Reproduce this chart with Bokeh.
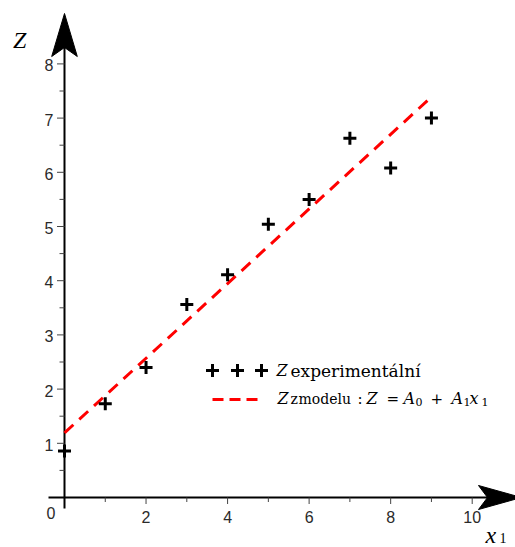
import numpy as np
from bokeh.plotting import figure
from bokeh.models import Range1d, Label
from bokeh.core.properties import value
from bokeh.embed import file_html
from bokeh.resources import INLINE

# ---------------- data ----------------
x1_values = [0, 1, 2, 3, 4, 5, 6, 7, 8, 9]
z_experimental = [0.86, 1.73, 2.40, 3.56, 4.11, 5.04, 5.50, 6.63, 6.08, 7.00]

x_major_ticks = [2, 4, 6, 8, 10]
x_minor_ticks = [1, 3, 5, 7, 9]
y_major_ticks = [1, 2, 3, 4, 5, 6, 7, 8]
y_minor_ticks = [0.5, 1.5, 2.5, 3.5, 4.5, 5.5, 6.5, 7.5]
x_tick_labels = ["2", "4", "6", "8", "10"]
y_tick_labels = ["1", "2", "3", "4", "5", "6", "7", "8"]
origin_label = "0"

y_axis_title = "Z"
x_axis_title = "x"
x_axis_title_sub = "1"

# model Z = A0 + A1*x1 (least squares fit of the experimental data)
A1, A0 = np.polyfit(x1_values, z_experimental, 1)
model_x = [min(x1_values), max(x1_values)]
model_z = [A0 + A1 * x for x in model_x]

# ---------------- layout ----------------
W, H = 515, 547
OX, OY = 64.0, 497.0       # origin in frame pixels (from left, from top)
UX, UY = 40.77, 54.2       # pixels per data unit
LBL_SHIFT = 7              # label baseline correction (px)


def dx(px):
    return (px - OX) / UX


def dy(py):
    return (OY - py) / UY


p = figure(width=W, height=H,
           x_range=Range1d(-OX / UX, (W - OX) / UX),
           y_range=Range1d(-(H - OY) / UY, OY / UY),
           x_axis_type=None, y_axis_type=None,
           min_border=0, toolbar_location=None, output_backend="svg",
           outline_line_color=None)
p.background_fill_color = "white"
p.border_fill_color = "white"

TICK_COL = "#444444"
SANS = value("Liberation Sans")

# axis lines
p.segment(x0=[dx(48), 0], y0=[0, dy(508)], x1=[dx(489), 0], y1=[0, dy(45)],
          line_color="black", line_width=2)

# arrow heads
hw = 12.8 / UX
hh = 12.0 / UY
p.patches(xs=[[0, hw, 0, -hw], [dx(521), dx(478), dx(487), dx(478)]],
          ys=[[dy(13), dy(56), dy(47), dy(56)], [0, hh, 0, -hh]],
          fill_color="black", line_color="black", line_width=1)

# ticks
p.segment(x0=x_major_ticks, y0=[0] * len(x_major_ticks), x1=x_major_ticks,
          y1=[-6.5 / UY] * len(x_major_ticks), line_color=TICK_COL, line_width=1)
p.segment(x0=x_minor_ticks, y0=[0] * len(x_minor_ticks), x1=x_minor_ticks,
          y1=[-4.5 / UY] * len(x_minor_ticks), line_color=TICK_COL, line_width=1)
p.segment(x0=[-7.5 / UX] * len(y_major_ticks), y0=y_major_ticks,
          x1=[0] * len(y_major_ticks), y1=y_major_ticks, line_color=TICK_COL, line_width=1)
p.segment(x0=[-5 / UX] * len(y_minor_ticks), y0=y_minor_ticks,
          x1=[0] * len(y_minor_ticks), y1=y_minor_ticks, line_color=TICK_COL, line_width=1)

# tick labels
TL_SIZE = "16px"
TL_COL = "#2a2a2a"
p.text(x=x_major_ticks, y=[dy(516)] * len(x_major_ticks), text=x_tick_labels,
       text_font=SANS, text_font_size=TL_SIZE, text_color=TL_COL,
       text_align="center", text_baseline="middle")
p.text(x=[dx(53)] * len(y_major_ticks), y=[v - 1.5 / UY for v in y_major_ticks],
       text=y_tick_labels,
       text_font=SANS, text_font_size=TL_SIZE, text_color=TL_COL,
       text_align="right", text_baseline="middle")
p.text(x=[dx(50.5)], y=[dy(512.5)], text=[origin_label],
       text_font=SANS, text_font_size=TL_SIZE, text_color=TL_COL,
       text_align="center", text_baseline="middle")

# model line
p.line(model_x, model_z, line_color="red", line_width=3, line_dash="12 8")

# experimental points
p.scatter(x1_values, z_experimental, marker="cross", size=13,
          line_color="black", line_width=3)


def add_label(txt, px, py, font, size, italic=False):
    p.add_layout(Label(x=dx(px), y=dy(py - LBL_SHIFT), text=txt, text_font=font,
                       text_font_style="italic" if italic else "normal",
                       text_font_size=f"{size}px", text_color="black",
                       text_align="left", text_baseline="alphabetic"))


# axis titles
SERIF_T = "Liberation Serif"
add_label(y_axis_title, 12.5, 46, SERIF_T, 24, italic=True)
add_label(x_axis_title, 485, 541, SERIF_T, 24, italic=True)
add_label(x_axis_title_sub, 499, 544, SERIF_T, 14)

# legend
LEG_FONT = "DejaVu Serif"
p.scatter([dx(212), dx(237), dx(261)], [dy(370)] * 3, marker="cross", size=13,
          line_color="black", line_width=3)
p.line([dx(212), dx(257)], [dy(399)] * 2, line_color="red", line_width=3,
       line_dash="11 6")

legend_pieces = [
    # text, page x, page baseline, italic, size
    ("Z", 276, 377, True, 16),
    ("experimentální", 290, 377, False, 17),
    ("Z", 277, 405, True, 16),
    ("z", 290, 405, False, 14),
    ("modelu", 298, 405, False, 14),
    (":", 357, 405, False, 15),
    ("Z", 366, 405, True, 16),
    ("=", 386, 405, False, 15),
    ("A", 403, 405, True, 16),
    ("0", 415, 408, False, 11),
    ("+", 430, 405, False, 15),
    ("A", 451, 405, True, 16),
    ("1", 463, 408, False, 11),
    ("x", 469, 405, True, 16),
    ("1", 481, 408, False, 11),
]
for txt, px, py, ital, sz in legend_pieces:
    add_label(txt, px, py, LEG_FONT, sz, italic=ital)

open("out.html", "w").write(file_html(p, INLINE))
